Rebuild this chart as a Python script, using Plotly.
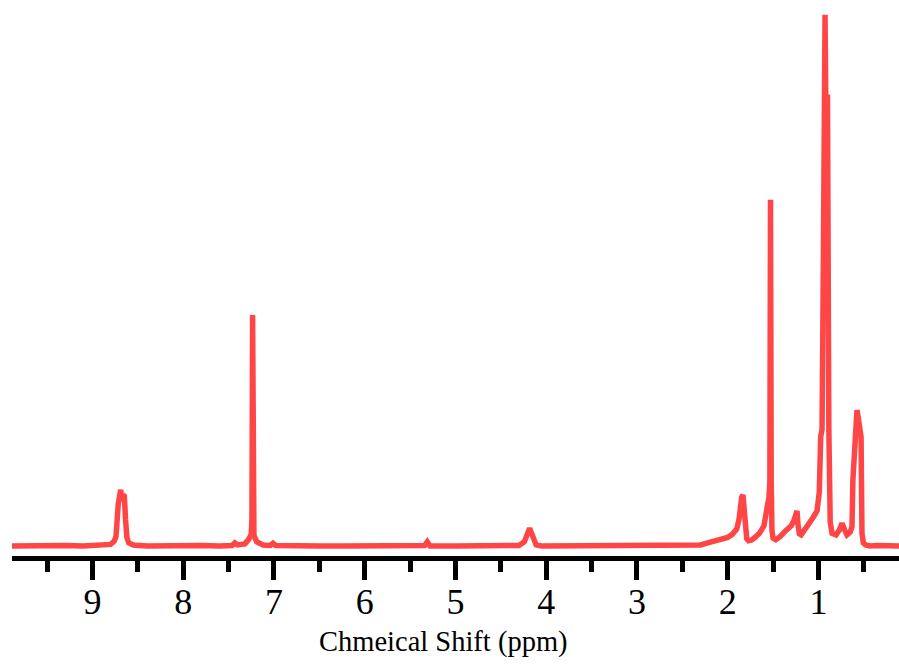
import plotly.graph_objects as go

# 1H NMR spectrum outline: chemical shift (ppm) and relative intensity (tallest peak = 100)
shift_ppm = [
    9.886, 9.70, 9.50, 9.30, 9.10, 8.90, 8.80, 8.76, 8.74, 8.715, 8.700, 8.688,
    8.675, 8.660, 8.648, 8.635, 8.620, 8.600, 8.55, 8.40, 8.20, 8.00, 7.80,
    7.60, 7.46, 7.43, 7.40, 7.32, 7.28, 7.25, 7.242, 7.235, 7.228, 7.22, 7.19,
    7.12, 7.04, 7.01, 6.98, 6.80, 6.50, 6.20, 6.00, 5.70, 5.40, 5.34, 5.31,
    5.28, 5.00, 4.60, 4.30, 4.24, 4.21, 4.19, 4.175, 4.16, 4.14, 4.11, 4.05,
    3.70, 3.30, 3.00, 2.70, 2.45, 2.30, 2.20, 2.10, 2.00, 1.95, 1.90, 1.875,
    1.86, 1.845, 1.831, 1.815, 1.805, 1.79, 1.77, 1.74, 1.70, 1.65, 1.60,
    1.57, 1.545, 1.535, 1.528, 1.520, 1.512, 1.50, 1.47, 1.42, 1.36, 1.30,
    1.27, 1.25, 1.236, 1.225, 1.21, 1.19, 1.15, 1.10, 1.05, 1.015, 0.99,
    0.975, 0.960, 0.945, 0.927, 0.912, 0.900, 0.885, 0.870, 0.850, 0.806,
    0.770, 0.740, 0.710, 0.685, 0.650, 0.630, 0.620, 0.600, 0.575, 0.560,
    0.545, 0.530, 0.520, 0.505, 0.480, 0.430, 0.35, 0.25, 0.112,
]
intensity = [
    0.0, 0.1, 0.0, 0.1, 0.0, 0.1, 0.3, 0.9, 1.8, 8.0, 10.6, 10.6,
    8.5, 9.6, 9.4, 5.0, 1.6, 0.6, 0.2, 0.0, 0.1, 0.0, 0.1,
    0.0, 0.1, 0.6, 0.2, 0.4, 1.2, 2.2, 5.0, 43.5, 5.0, 2.0, 0.8,
    0.2, 0.1, 0.5, 0.1, 0.0, 0.0, 0.0, 0.0, 0.0, 0.0, 0.1, 0.8,
    0.0, 0.0, 0.0, 0.1, 0.8, 2.3, 3.0, 3.0, 2.4, 1.0, 0.2, 0.0,
    0.0, 0.0, 0.0, 0.0, 0.0, 0.2, 0.7, 1.1, 1.6, 2.2, 3.2, 5.0,
    7.5, 9.2, 9.6, 6.0, 3.0, 1.4, 1.0, 1.1, 1.6, 2.4, 3.8,
    6.5, 9.2, 12.0, 65.2, 12.0, 3.0, 1.5, 1.2, 1.8, 2.9, 3.8,
    4.8, 6.3, 6.6, 4.0, 2.3, 2.1, 3.0, 4.3, 5.6, 6.6, 10.2,
    20.5, 22.0, 55.0, 100.0, 70.0, 85.0, 22.0, 4.5, 2.4, 2.1,
    3.0, 4.3, 3.0, 2.1, 2.6, 3.6, 12.4, 20.0, 25.6, 24.0,
    22.5, 20.5, 2.4, 0.6, 0.2, 0.0, 0.1, 0.0, 0.0,
]

tick_vals = [9, 8, 7, 6, 5, 4, 3, 2, 1]
tick_text = ["9", "8", "7", "6", "5", "4", "3", "2", "1"]
x_title = "Chmeical Shift (ppm)"

fig = go.Figure()
fig.add_trace(go.Scatter(
    x=shift_ppm,
    y=intensity,
    mode="lines",
    line=dict(color="#FF4646", width=5.5),
    hoverinfo="skip",
    showlegend=False,
))

serif = "Liberation Serif, Times New Roman, serif"

fig.update_layout(
    width=899,
    height=666,
    margin=dict(l=12, r=0, t=0, b=110),
    paper_bgcolor="white",
    plot_bgcolor="white",
    xaxis=dict(
        range=[9.886, 0.112],
        showgrid=False,
        zeroline=False,
        showline=True,
        linecolor="black",
        linewidth=5,
        ticks="outside",
        ticklen=19,
        tickwidth=5,
        tickcolor="black",
        tickvals=tick_vals,
        ticktext=tick_text,
        ticklabelstandoff=-9,
        tickfont=dict(family=serif, size=36, color="black"),
        minor=dict(
            dtick=0.5,
            tick0=0,
            ticks="outside",
            ticklen=11,
            tickwidth=5,
            tickcolor="black",
            showgrid=False,
        ),
    ),
    yaxis=dict(
        range=[-1.88, 102.8],
        visible=False,
        showgrid=False,
        zeroline=False,
    ),
    annotations=[
        dict(
            text=x_title,
            xref="paper",
            yref="paper",
            x=0.487,
            y=0,
            xanchor="center",
            yanchor="middle",
            yshift=-86,
            showarrow=False,
            font=dict(family=serif, size=28.5, color="black"),
        )
    ],
)

fig.write_html("out.html")
